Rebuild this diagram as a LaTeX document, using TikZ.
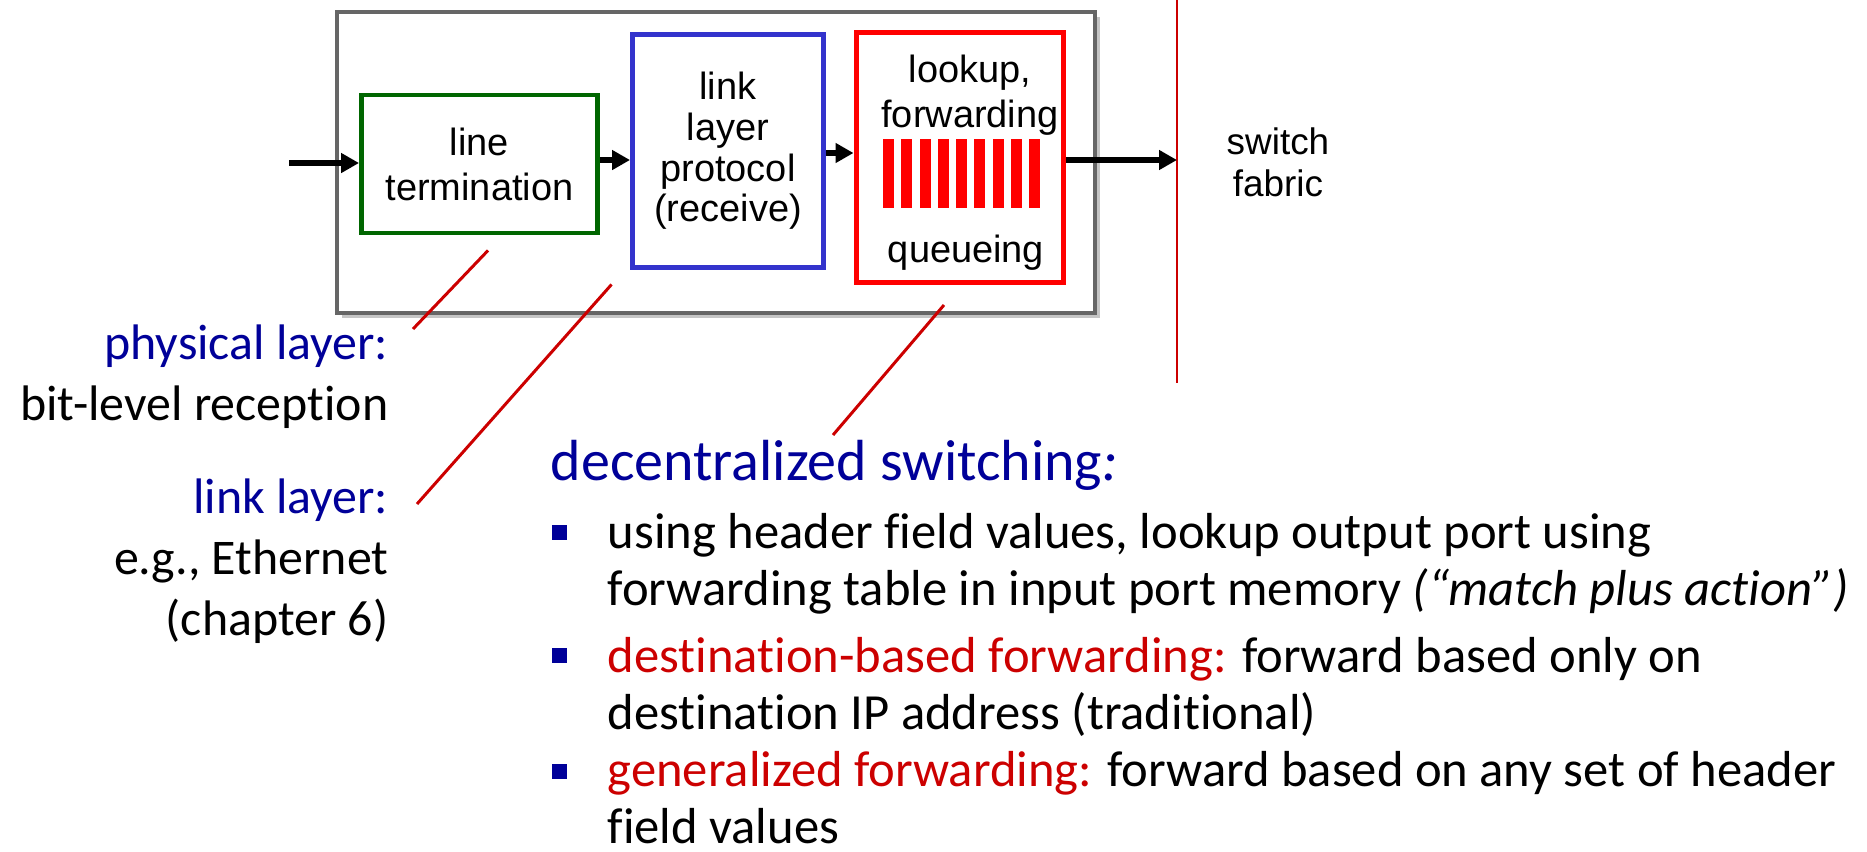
\documentclass[tikz,border=0pt]{standalone}
\usepackage{fontspec}
\setmainfont{Carlito}[Ligatures={NoCommon}]
\newfontfamily\arialfont{Liberation Sans}
\usetikzlibrary{arrows.meta,shadows}
\definecolor{netblue}{RGB}{0,0,153}
\definecolor{netred}{RGB}{204,0,0}
\definecolor{termgreen}{RGB}{0,102,0}
\definecolor{protoblue}{RGB}{51,51,204}
\definecolor{portgray}{RGB}{102,102,102}

\begin{document}
\begin{tikzpicture}[
    box/.style={draw, rectangle, inner sep=0pt, align=center, font=\arialfont\fontsize{10.8}{12.8}\selectfont},
    flow/.style={-{Triangle[length=1.8mm,width=1.9mm]}, line width=1.8pt},
    callout/.style={netred, line width=0.85pt},
    lbl/.style={align=right, inner sep=0pt, font=\fontsize{14.2}{17.4}\selectfont},
    item/.style={align=left, inner sep=0pt, anchor=north west, font=\fontsize{14.4}{16.2}\selectfont},
    bullet/.style={fill=netblue, inner sep=0pt, minimum size=1.5mm}]

  \useasboundingbox (0,0) rectangle (18.67,-8.51);

  % input port
  \node[box, draw=portgray, line width=1.1pt, fill=white,
        drop shadow={shadow xshift=0.05cm, shadow yshift=-0.05cm, fill=black!45, opacity=0.5},
        minimum width=7.58cm, minimum height=3.01cm] (port) at (7.16,-1.625) {};
  \node[box, draw=termgreen, line width=1.4pt, minimum width=2.36cm, minimum height=1.38cm] (term) at (4.795,-1.64) {line\\termination};
  \node[box, draw=protoblue, line width=1.4pt, minimum width=1.91cm, minimum height=2.33cm,
        font=\arialfont\fontsize{10.8}{11.6}\selectfont] (proto) at (7.28,-1.51) {link\\layer\\protocol\\(receive)};
  \node[box, draw=red, line width=1.7pt, minimum width=2.07cm, minimum height=2.50cm] (lookup) at (9.60,-1.575) {};
  \node[box, draw=none] (lookuptxt) at (9.70,-0.95) {lookup,\\forwarding};
  \node[box, draw=none, anchor=base] (queuetxt) at (9.66,-2.62) {queueing};
  \foreach \i in {0,...,8}
    \fill[red] (8.83+0.1825*\i,-1.39) rectangle ++(0.11,-0.69);

  % switch fabric
  \coordinate (fabtop) at (11.77,0);
  \coordinate (fabbot) at (11.77,-3.83);
  \draw[netred, line width=0.6pt] (fabtop) -- (fabbot);
  \node[box, draw=none, font=\arialfont\fontsize{10.5}{12}\selectfont] (fabric) at (12.78,-1.625) {switch\\fabric};

  \coordinate (inport) at (2.89,-1.63);
  \draw[flow] (inport) -- (inport -| term.west);
  \draw[flow] ([yshift=0.04cm]term.east) -- ([yshift=0.04cm]term.east -| proto.west);
  \draw[flow] ([yshift=-0.02cm]proto.east) -- ([yshift=-0.02cm]proto.east -| lookup.west);
  \draw[flow] ([yshift=-0.025cm]lookup.east) -- ([yshift=-0.025cm]lookup.east -| fabtop);

  % layer labels
  \node[lbl, anchor=north east] (physlbl) at (3.89,-3.24) {\textcolor{netblue}{physical layer:}\\bit-level reception};
  \node[lbl, anchor=north east] (linklbl) at (3.89,-4.78) {\textcolor{netblue}{link layer:}\\e.g., Ethernet\\(chapter 6)};

  \coordinate (phystip) at (4.13,-3.29);
  \coordinate (linktip) at (4.17,-5.04);
  \coordinate (switchtip) at (8.33,-4.35);
  \draw[callout] ([shift={(0.085,-0.15)}]term.south) -- (phystip);
  \draw[callout] ([shift={(-0.185,-0.145)}]proto.south west) -- (linktip);
  \draw[callout] ([shift={(-0.16,-0.195)}]lookup.south) -- (switchtip);

  % decentralized switching
  \node[anchor=base west, inner sep=0pt, text=netblue, font=\fontsize{16.5}{20}\selectfont] (decent) at (5.50,-4.80) {decentralized switching\textit{:}};

  \node[bullet] (bul1) at (5.595,-5.32) {};
  \node[item] (item1) at (6.07,-5.13) {using header field values, lookup output port using\\forwarding table in input port memory \textit{(“match plus action”)}};
  \node[bullet] (bul2) at (5.595,-6.55) {};
  \node[item] (item2) at (6.07,-6.37) {\textcolor{netred}{destination-based forwarding:} forward based only on\\destination IP address (traditional)};
  \node[bullet] (bul3) at (5.595,-7.71) {};
  \node[item] (item3) at (6.07,-7.51) {\textcolor{netred}{generalized forwarding:} forward based on any set of header\\field values};
\end{tikzpicture}
\end{document}
